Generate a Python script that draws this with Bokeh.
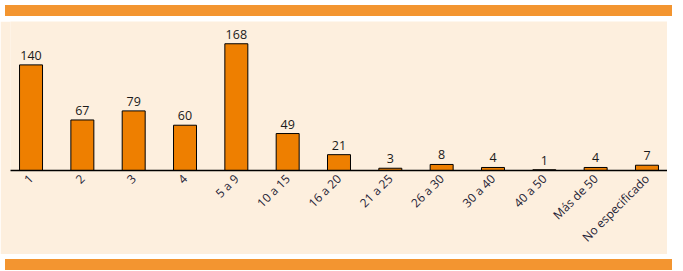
from math import pi
from bokeh.plotting import figure
from bokeh.models import ColumnDataSource, FactorRange, Div
from bokeh.layouts import column
from bokeh.core.properties import value
from bokeh.embed import file_html
from bokeh.resources import INLINE

categories = ["1", "2", "3", "4", "5 a 9", "10 a 15", "16 a 20", "21 a 25",
              "26 a 30", "30 a 40", "40 a 50", "Más de 50", "No especificado"]
counts = [140, 67, 79, 60, 168, 49, 21, 3, 8, 4, 1, 4, 7]
count_labels = [str(c) for c in counts]

BG = "#FDEFDE"
BAND = "#F39530"
BAR = "#EE7F00"
FONT = "Open Sans"

src = ColumnDataSource(dict(cat=categories, n=counts, lab=count_labels))

W = 667
BAND_H = 11
FIG_H = 255 - 2 * BAND_H

p = figure(x_range=FactorRange(*categories, range_padding=-0.1, range_padding_units="absolute"),
           y_range=(0, 197.5),
           width=W, height=FIG_H, output_backend="svg", toolbar_location=None,
           min_border_left=10, min_border_right=0, min_border_top=0, min_border_bottom=80)
p.background_fill_color = BG
p.border_fill_color = BG
p.outline_line_color = None
p.grid.visible = False
p.yaxis.visible = False

p.vbar(x="cat", top="n", width=0.448, source=src, fill_color=BAR,
       line_color="black", line_width=1)
p.text(x="cat", y="n", text="lab", source=src, y_offset=-5,
       text_align="center", text_baseline="bottom",
       text_font=value(FONT), text_font_size="12.5px", text_color="#1a1a1a")

ax = p.xaxis[0]
ax.axis_line_color = "black"
ax.axis_line_width = 1.5
ax.major_tick_line_color = None
ax.minor_tick_line_color = None
ax.major_tick_in = 0
ax.major_tick_out = 0
ax.major_label_orientation = pi / 4
ax.major_label_standoff = 6
ax.major_label_text_font = FONT
ax.major_label_text_font_size = "12px"
ax.major_label_text_color = "#1e2235"

top = Div(text="", width=W, height=BAND_H, styles={"background-color": BAND})
bottom = Div(text="", width=W, height=BAND_H, styles={"background-color": BAND})
layout = column(top, p, bottom, spacing=0)

open("out.html", "w").write(file_html(layout, INLINE))
